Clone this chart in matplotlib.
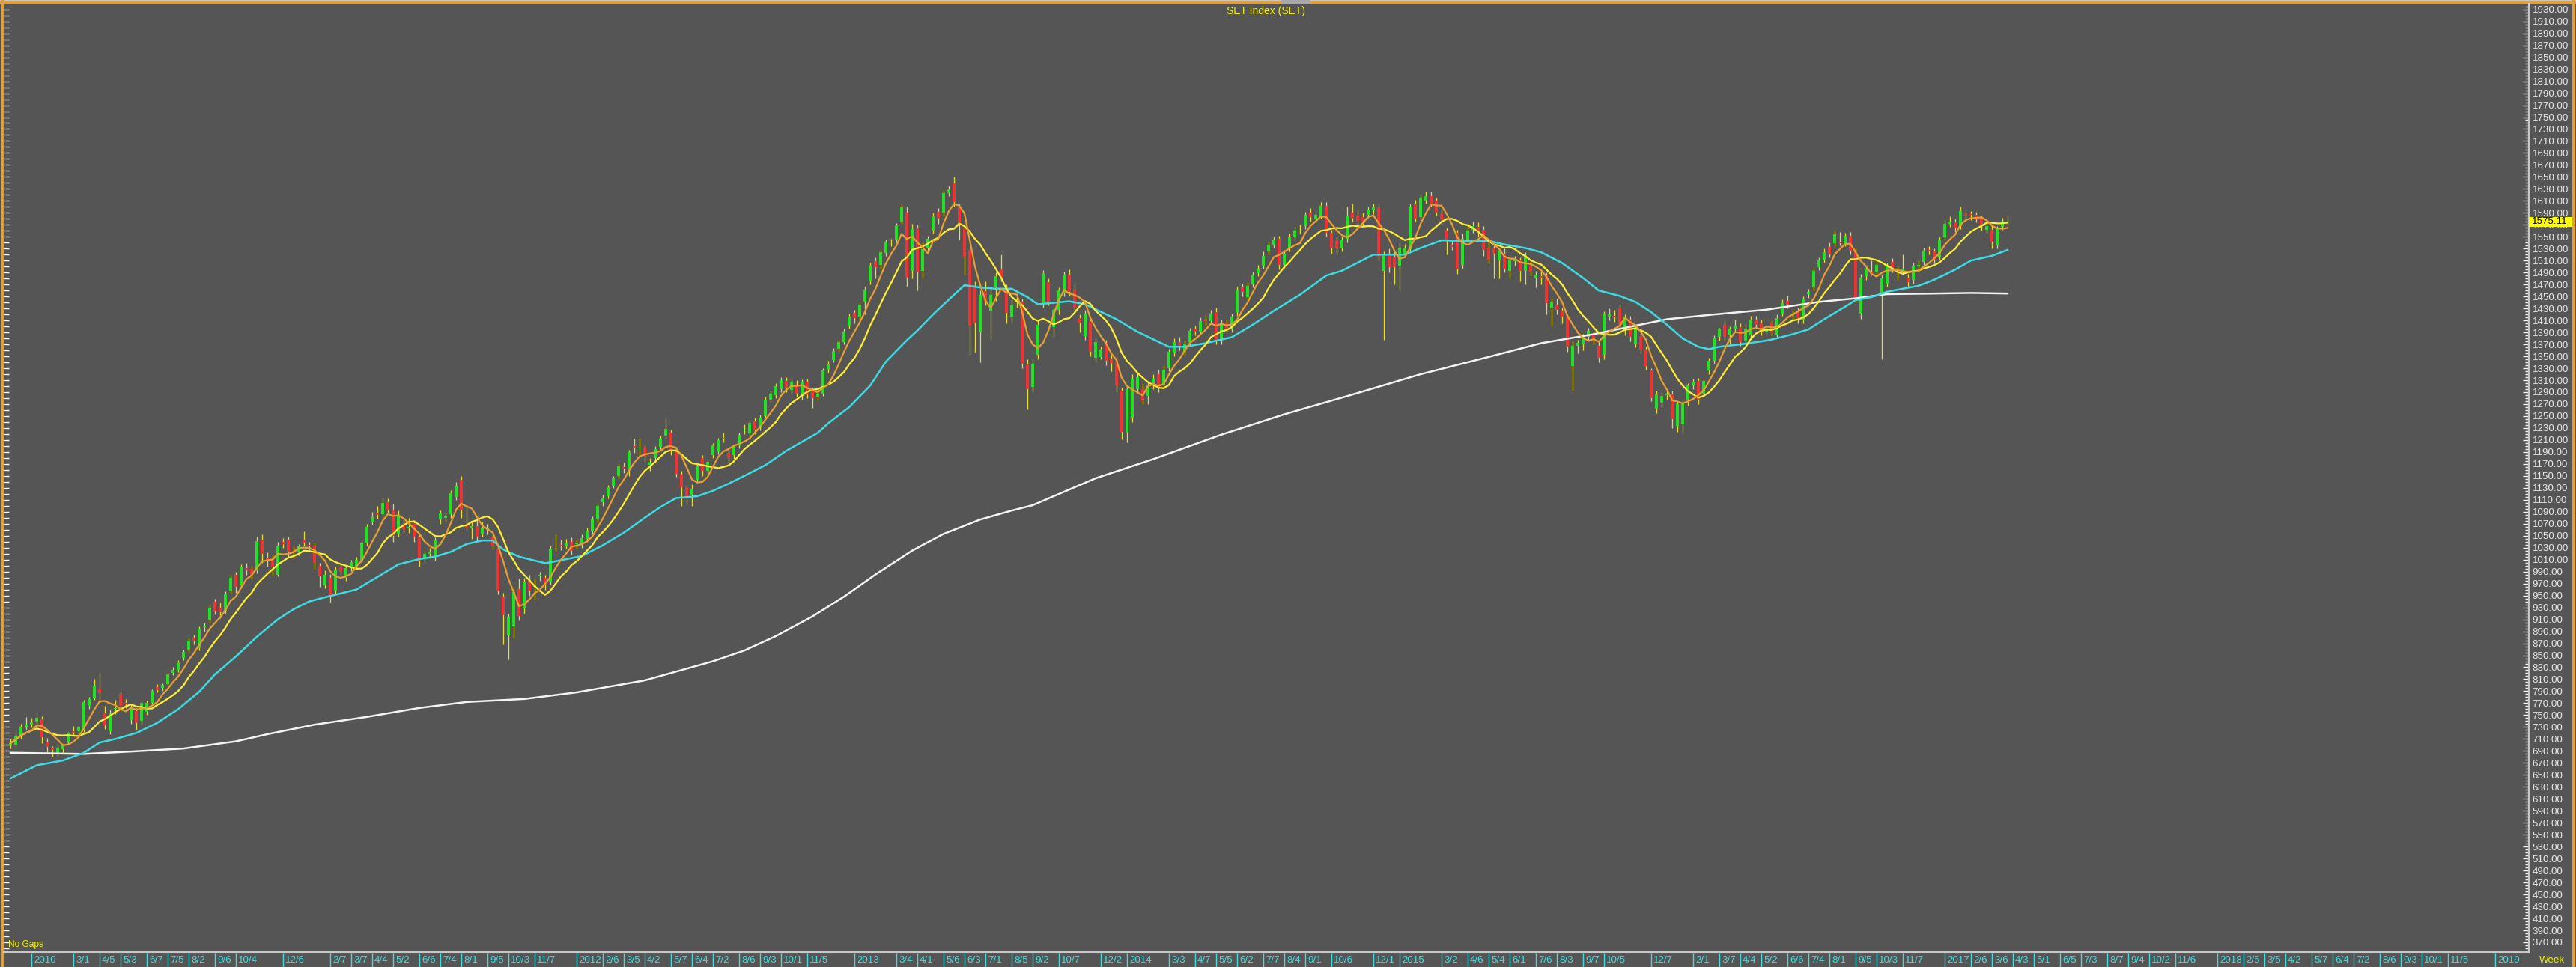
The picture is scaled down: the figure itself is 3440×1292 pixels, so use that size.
import numpy as np
import pandas as pd
import matplotlib
matplotlib.use("Agg")
import matplotlib.pyplot as plt
from matplotlib.lines import Line2D
from matplotlib.patches import Rectangle

plt.rcParams['font.family'] = ['Liberation Sans', 'DejaVu Sans']

# ---------------- data (weekly SET index, first week 2009-12-07) ----------------
start_week = "2009-12-07"

opens = [
 699,701,714,729,734,739,743,706,694,686, 693,705,723,723,724,766,778,794,753,723,
 760,785,770,742,757,740,755,771,797,795, 802,821,825,846,860,879,862,897,910,939,
 930,925,958,985,967,996,994,992,1044,1013, 1012,985,1040,1043,1025,1023,1042,1035,1033,1000,
 967,979,958,998,979,996,998,1008,1038,1073, 1088,1086,1106,1092,1054,1071,1062,1071,1048,1013,
 1020,1015,1077,1080,1086,1115,1144,1069,1062,1066, 1054,1060,1048,1027,948,883,898,961,928,976,
 965,983,979,973,1032,1035,1034,1040,1036,1035, 1045,1058,1077,1106,1116,1134,1150,1165,1162,1200,
 1196,1197,1168,1180,1198,1217,1222,1192,1152,1131, 1119,1143,1180,1159,1185,1191,1214,1189,1185,1201,
 1226,1221,1241,1231,1250,1277,1285,1295,1309,1294, 1303,1284,1307,1292,1283,1288,1328,1344,1362,1374,
 1402,1423,1416,1442,1475,1509,1503,1523,1540,1545, 1576,1590,1493,1564,1493,1530,1560,1592,1590,1623,
 1639,1599,1563,1526,1468,1390,1459,1426,1465,1495, 1460,1417,1440,1441,1336,1299,1353,1437,1474,1399,
 1428,1455,1487,1462,1414,1384,1409,1347,1349,1372, 1345,1343,1292,1222,1247,1295,1295,1284,1301,1320,
 1301,1330,1355,1374,1358,1374,1395,1391,1410,1409, 1424,1378,1405,1397,1424,1466,1449,1470,1489,1501,
 1525,1537,1547,1503,1530,1549,1561,1568,1591,1579, 1585,1602,1556,1543,1530,1547,1591,1585,1583,1587,
 1594,1599,1493,1520,1516,1501,1522,1529,1604,1583, 1610,1618,1610,1589,1560,1537,1556,1503,1545,1562,
 1566,1562,1532,1530,1510,1522,1493,1509,1510,1493, 1501,1480,1484,1485,1432,1437,1426,1415,1334,1368,
 1370,1382,1386,1368,1353,1415,1418,1430,1397,1412, 1370,1382,1361,1326,1263,1272,1285,1286,1234,1236,
 1278,1301,1309,1288,1326,1342,1382,1403,1385,1395, 1399,1376,1386,1412,1405,1391,1405,1387,1422,1443,
 1418,1426,1412,1454,1466,1499,1512,1533,1539,1541, 1539,1552,1526,1422,1484,1491,1491,1453,1472,1508,
 1493,1493,1482,1478,1502,1508,1528,1526,1516,1549, 1572,1574,1568,1589,1588,1587,1581,1562,1562,1537,
 1566,1574]

highs = [
 710,720,735,747,745,752,748,712,698,700, 702,722,732,733,776,780,810,820,765,759,
 776,790,777,768,762,773,774,793,802,803, 821,830,842,860,879,884,898,905,934,944,
 938,957,984,990,1002,1005,1000,1048,1052,1022, 1018,1040,1046,1049,1032,1036,1057,1040,1038,1004,
 992,986,998,1004,1000,1010,1014,1042,1070,1090, 1100,1113,1112,1104,1092,1080,1080,1076,1052,1025,
 1030,1047,1092,1090,1126,1140,1150,1102,1075,1082, 1073,1070,1056,1032,955,920,962,978,980,985,
 978,990,985,1033,1052,1044,1045,1047,1045,1052, 1063,1082,1104,1118,1135,1150,1170,1172,1193,1213,
 1212,1203,1180,1200,1218,1246,1228,1198,1158,1135, 1136,1170,1185,1178,1205,1214,1222,1195,1203,1223,
 1236,1243,1248,1252,1282,1292,1305,1315,1315,1312, 1310,1311,1312,1298,1296,1330,1342,1364,1378,1396,
 1421,1428,1440,1466,1506,1515,1528,1545,1546,1573, 1604,1600,1572,1570,1540,1552,1590,1598,1628,1636,
 1650,1605,1569,1532,1475,1460,1475,1462,1490,1520, 1470,1445,1450,1446,1345,1345,1410,1494,1480,1432,
 1465,1492,1495,1470,1420,1428,1415,1380,1366,1378, 1352,1350,1298,1300,1320,1322,1305,1308,1320,1327,
 1335,1362,1380,1382,1376,1398,1401,1415,1418,1428, 1431,1412,1411,1422,1466,1472,1474,1491,1503,1525,
 1541,1550,1552,1528,1555,1566,1570,1592,1598,1593, 1608,1608,1562,1550,1550,1600,1605,1595,1590,1601,
 1605,1604,1525,1530,1525,1540,1538,1605,1612,1622, 1625,1625,1615,1595,1565,1545,1562,1555,1572,1575,
 1574,1568,1540,1535,1532,1530,1516,1518,1515,1524, 1510,1493,1492,1490,1448,1446,1432,1420,1375,1378,
 1388,1398,1392,1375,1425,1430,1428,1436,1420,1418, 1402,1390,1366,1330,1292,1290,1293,1292,1275,1276,
 1305,1312,1314,1313,1347,1385,1398,1410,1400,1412, 1405,1403,1418,1418,1412,1400,1410,1420,1445,1452,
 1428,1432,1450,1463,1498,1515,1530,1540,1560,1558, 1557,1558,1532,1488,1500,1510,1508,1486,1506,1514,
 1500,1520,1488,1506,1510,1532,1534,1530,1550,1578, 1584,1580,1600,1596,1593,1592,1586,1575,1570,1568,
 1582,1587]

lows = [
 694,697,711,725,729,735,703,688,680,680, 687,702,716,719,722,760,775,770,727,718,
 752,762,762,736,725,736,750,768,788,790, 799,817,822,842,856,868,858,890,905,918,
 912,920,953,955,962,985,978,987,1004,998, 983,982,1030,1014,1012,1017,1033,1023,995,965,
 962,938,952,985,975,991,995,1004,1034,1068, 1078,1082,1088,1040,1048,1055,1055,1040,998,1005,
 1012,1008,1070,1074,1080,1110,1080,1060,1045,1040, 1048,1052,1028,952,868,843,880,908,920,950,
 945,975,960,968,1025,1026,1028,1018,1028,1030, 1040,1054,1072,1100,1112,1130,1146,1155,1150,1188,
 1185,1175,1158,1172,1193,1212,1185,1148,1100,1103, 1100,1138,1150,1152,1180,1186,1206,1172,1178,1196,
 1220,1216,1220,1226,1245,1272,1280,1290,1290,1288, 1282,1278,1280,1264,1276,1284,1323,1340,1358,1370,
 1396,1405,1410,1420,1470,1480,1496,1518,1534,1540, 1572,1466,1480,1460,1480,1525,1555,1572,1585,1618,
 1600,1545,1487,1353,1356,1340,1435,1377,1443,1475, 1405,1405,1432,1330,1261,1290,1345,1432,1435,1382,
 1420,1450,1452,1420,1390,1378,1350,1340,1345,1335, 1325,1290,1211,1206,1240,1288,1270,1270,1295,1290,
 1296,1325,1350,1360,1352,1368,1385,1386,1402,1404, 1370,1370,1392,1390,1418,1450,1440,1465,1484,1496,
 1520,1532,1495,1498,1525,1544,1555,1563,1576,1574, 1580,1550,1522,1520,1525,1540,1575,1570,1568,1582,
 1588,1510,1377,1490,1470,1460,1515,1525,1575,1578, 1605,1600,1585,1570,1520,1528,1488,1496,1540,1556,
 1550,1518,1505,1480,1480,1490,1480,1502,1475,1470, 1485,1465,1470,1420,1402,1420,1405,1358,1293,1355,
 1360,1375,1370,1340,1345,1410,1408,1395,1385,1375, 1365,1355,1328,1275,1255,1265,1278,1230,1224,1221,
 1268,1295,1270,1282,1320,1338,1376,1376,1370,1390, 1368,1370,1380,1397,1385,1385,1385,1382,1418,1430,
 1412,1405,1405,1448,1460,1494,1507,1515,1534,1535, 1534,1520,1440,1413,1478,1485,1486,1345,1466,1490,
 1478,1488,1465,1472,1496,1503,1520,1505,1511,1544, 1566,1558,1563,1580,1578,1574,1560,1555,1530,1530,
 1561,1570]

closes = [
 703,715,730,734,738,745,713,697,692,696, 699,720,720,730,772,777,799,787,733,752,
 762,766,768,763,737,770,770,790,792,800, 818,825,838,856,875,874,895,899,929,923,
 922,952,979,965,998,992,985,1041,1019,1008, 998,1033,1036,1023,1023,1032,1037,1033,1004,982,
 985,948,992,990,996,1006,1010,1038,1065,1081, 1085,1105,1094,1050,1085,1061,1065,1048,1008,1019,
 1023,1042,1087,1083,1121,1134,1094,1063,1066,1048, 1064,1064,1034,958,917,914,956,916,973,958,
 967,985,967,1028,1034,1034,1037,1025,1037,1046, 1058,1077,1100,1113,1131,1146,1166,1162,1190,1197,
 1197,1183,1172,1195,1213,1229,1192,1154,1131,1116, 1128,1166,1159,1173,1201,1210,1212,1180,1198,1219,
 1228,1239,1227,1247,1277,1287,1300,1310,1297,1307, 1288,1307,1286,1280,1288,1326,1336,1359,1374,1392,
 1417,1414,1436,1462,1501,1499,1524,1541,1541,1569, 1599,1481,1563,1490,1529,1547,1584,1580,1623,1629,
 1608,1569,1516,1402,1405,1453,1441,1453,1484,1481, 1423,1435,1444,1338,1295,1338,1403,1489,1441,1428,
 1460,1487,1458,1430,1405,1422,1357,1374,1361,1343, 1339,1301,1224,1295,1313,1315,1276,1301,1313,1299,
 1328,1357,1374,1368,1370,1393,1391,1409,1409,1422, 1376,1405,1397,1416,1460,1458,1468,1485,1497,1518,
 1535,1545,1503,1522,1549,1560,1562,1587,1583,1587, 1602,1556,1530,1530,1545,1585,1581,1577,1577,1595,
 1599,1516,1520,1499,1499,1531,1530,1600,1581,1616, 1618,1606,1591,1579,1545,1533,1497,1547,1560,1568,
 1558,1528,1512,1522,1526,1497,1510,1510,1493,1518, 1491,1487,1481,1439,1441,1428,1415,1366,1368,1372,
 1382,1393,1378,1347,1420,1420,1416,1401,1416,1383, 1395,1361,1334,1280,1286,1284,1287,1245,1270,1270,
 1301,1307,1278,1309,1343,1380,1395,1382,1395,1401, 1374,1397,1412,1403,1391,1395,1391,1414,1439,1435,
 1422,1414,1445,1458,1493,1510,1524,1520,1554,1539, 1552,1526,1449,1481,1495,1489,1503,1480,1501,1495,
 1491,1495,1474,1501,1503,1527,1525,1512,1545,1572, 1575,1564,1593,1585,1587,1579,1568,1568,1541,1564,
 1576,1575.11]

# long moving averages (week index -> value)
cyan_weeks = [0,5,10,14,17,20,24,28,32,36,39,43,47,51,54,57,60,66,70,74,78,81,84,87,90,92,94,97,
              102,105,109,113,117,121,124,127,131,134,137,140,144,148,151,154,156,160,164,167,171,
              173,176,180,182,185,188,191,194,196,202,205,211,215,221,224,228,233,237,241,246,251,
              254,260,262,266,269,273,277,282,285,289,292,296,300,303,307,310,313,316,319,322,324,
              326,330,334,336,340,343,346,350,352,355,358,361,364,367,371,374,378,381]
cyan_vals = [644,666,674,687,704,710,720,737,760,789,818,848,881,910,927,940,947,960,981,1002,1011,
             1015,1023,1036,1042,1042,1027,1015,1004,1009,1016,1034,1055,1080,1098,1113,1116,1125,
             1137,1150,1168,1192,1207,1222,1238,1265,1301,1341,1377,1393,1420,1453,1469,1465,1463,
             1463,1449,1437,1442,1437,1412,1391,1366,1366,1372,1382,1403,1426,1453,1485,1493,1520,
             1520,1520,1531,1544,1543,1543,1537,1531,1524,1506,1481,1460,1451,1441,1424,1403,1380,
             1366,1362,1366,1370,1375,1378,1387,1395,1412,1433,1444,1449,1458,1463,1468,1478,1495,
             1510,1518,1528]
white_weeks = [0,14,23,33,43,49,58,68,78,87,98,108,121,134,140,146,153,159,165,172,178,185,191,195,
               207,218,231,243,256,269,282,292,302,316,325,335,345,352,358,367,374,381]
white_vals = [687,685,689,694,706,718,734,747,762,772,777,788,808,840,858,882,915,948,985,1025,1053,
              1077,1092,1101,1146,1178,1219,1253,1286,1320,1349,1372,1387,1412,1420,1428,1441,1447,
              1454,1455,1456,1455]

# x-axis labels (first Monday of the month)
tick_dates = ["2010-01-04","2010-03-01","2010-04-05","2010-05-03","2010-06-07","2010-07-05","2010-08-02",
  "2010-09-06","2010-10-04","2010-12-06","2011-02-07","2011-03-07","2011-04-04","2011-05-02","2011-06-06",
  "2011-07-04","2011-08-01","2011-09-05","2011-10-03","2011-11-07","2012-01-02","2012-02-06","2012-03-05",
  "2012-04-02","2012-05-07","2012-06-04","2012-07-02","2012-08-06","2012-09-03","2012-10-01","2012-11-05",
  "2013-01-07","2013-03-04","2013-04-01","2013-05-06","2013-06-03","2013-07-01","2013-08-05","2013-09-02",
  "2013-10-07","2013-12-02","2014-01-06","2014-03-03","2014-04-07","2014-05-05","2014-06-02","2014-07-07",
  "2014-08-04","2014-09-01","2014-10-06","2014-12-01","2015-01-05","2015-03-02","2015-04-06","2015-05-04",
  "2015-06-01","2015-07-06","2015-08-03","2015-09-07","2015-10-05","2015-12-07","2016-02-01","2016-03-07",
  "2016-04-04","2016-05-02","2016-06-06","2016-07-04","2016-08-01","2016-09-05","2016-10-03","2016-11-07",
  "2017-01-02","2017-02-06","2017-03-06","2017-04-03","2017-05-01","2017-06-05","2017-07-03","2017-08-07",
  "2017-09-04","2017-10-02","2017-11-06","2018-01-01","2018-02-05","2018-03-05","2018-04-02","2018-05-07",
  "2018-06-04","2018-07-02","2018-08-06","2018-09-03","2018-10-01","2018-11-05","2019-01-07"]
tick_labels = ["2010","3/1","4/5","5/3","6/7","7/5","8/2","9/6","10/4","12/6",
  "2/7","3/7","4/4","5/2","6/6","7/4","8/1","9/5","10/3","11/7",
  "2012","2/6","3/5","4/2","5/7","6/4","7/2","8/6","9/3","10/1","11/5",
  "2013","3/4","4/1","5/6","6/3","7/1","8/5","9/2","10/7","12/2",
  "2014","3/3","4/7","5/5","6/2","7/7","8/4","9/1","10/6","12/1",
  "2015","3/2","4/6","5/4","6/1","7/6","8/3","9/7","10/5","12/7",
  "2/1","3/7","4/4","5/2","6/6","7/4","8/1","9/5","10/3","11/7",
  "2017","2/6","3/6","4/3","5/1","6/5","7/3","8/7","9/4","10/2","11/6",
  "2018","2/5","3/5","4/2","5/7","6/4","7/2","8/6","9/3","10/1","11/5","2019"]

title = "SET Index (SET)"
last_price = 1575.11

# ---------------- styling ----------------
BG = "#555555"
UP, DOWN, WICK = "#22e022", "#f03232", "#ece224"
C_ORANGE, C_YELLOW, C_CYAN, C_WHITE = "#e8a030", "#fff030", "#3cdce4", "#f4f4f4"
AXTXT = "#e8e8e8"
TICKC = "#3ee0e0"
YEL = "#f2f200"

W, H = 3440, 1292
L, R, T, B = 5, 3376, 5, 1271

fig = plt.figure(figsize=(W / 100, H / 100), dpi=100, facecolor=BG)
ax = fig.add_axes([L / W, 1 - B / H, (R - L) / W, (B - T) / H])
ax.set_facecolor(BG)
for s in ax.spines.values():
    s.set_visible(False)

def px(xp):  # pixel x -> week index
    return (xp - 14) / 7.0

def py(yp):  # pixel y -> value
    return 1930 - (yp - 12.7) / 0.7989

ax.set_xlim(px(L), px(R))
ax.set_ylim(py(B), py(T))

o = np.array(opens, float); h = np.array(highs, float)
l = np.array(lows, float); c = np.array(closes, float)
x = np.arange(len(c))
up = c >= o

ax.vlines(x, l, h, color=WICK, lw=0.9, zorder=2)
ax.bar(x[up], np.maximum(c - o, 0.8)[up], bottom=o[up], width=0.66, color=UP, lw=0, zorder=3)
ax.bar(x[~up], (o - c)[~up], bottom=c[~up], width=0.66, color=DOWN, lw=0, zorder=3)

s = pd.Series(c)
ma5 = s.rolling(5, min_periods=1).mean()
ma10 = s.rolling(10, min_periods=1).mean()
ax.plot(white_weeks, white_vals, color=C_WHITE, lw=1.8, zorder=4)
ax.plot(cyan_weeks, cyan_vals, color=C_CYAN, lw=1.8, zorder=4)
ax.plot(x, ma10, color=C_YELLOW, lw=1.6, zorder=5)
ax.plot(x, ma5, color=C_ORANGE, lw=1.6, zorder=6)

# y axis (right)
ax.yaxis.tick_right()
ax.set_yticks(np.arange(370, 1931, 20))
ax.set_yticklabels([f"{v:.2f}" for v in range(370, 1931, 20)])
ax.set_yticks(np.arange(360, 1940, 5), minor=True)
ax.tick_params(axis='y', which='major', direction='in', length=5, width=1, color='white',
               labelcolor=AXTXT, labelsize=9.6, pad=4)
ax.tick_params(axis='y', which='minor', direction='in', length=3, width=1, color='white')
ax.tick_params(axis='x', which='both', bottom=False, labelbottom=False)

sec = ax.secondary_yaxis('left')
sec.set_yticks(np.arange(360, 1940, 10))
sec.tick_params(direction='in', length=5, width=1, color='white', labelleft=False)
for sp in sec.spines.values():
    sp.set_visible(False)

# bottom date strip
axb = fig.add_axes([L / W, 0, (R - L) / W, (H - B - 2) / H])
axb.set_xlim(px(L), px(R))
axb.set_ylim(0, 1)
axb.axis('off')
t0 = pd.Timestamp(start_week)
for d, lab in zip(tick_dates, tick_labels):
    tx = (pd.Timestamp(d) - t0).days / 7.0
    axb.vlines(tx, 0, 1, color=TICKC, lw=1.0)
    axb.annotate(lab, (tx, 0.45), xytext=(3, 0), textcoords='offset pixels',
                 ha='left', va='center', color=TICKC, fontsize=9.6)

def fx(xp):
    return xp / W

def fy(yp):
    return 1 - yp / H

# separators
fig.add_artist(Line2D([fx(L), fx(R + 1)], [fy(B + 1), fy(B + 1)], color="#c8c8c8", lw=1.5))
fig.add_artist(Line2D([fx(R + 1), fx(R + 1)], [fy(T), fy(B + 1)], color="#c8c8c8", lw=1.5))

# frame
fig.add_artist(Rectangle((0, fy(1.2)), 1, 1.2 / H, transform=fig.transFigure, color="#c8c8c8", lw=0))
fig.add_artist(Rectangle((0, fy(4.5)), 1, 3.3 / H, transform=fig.transFigure, color="#e0a040", lw=0))
fig.add_artist(Rectangle((fx(1.5), 0), 3 / W, 1, transform=fig.transFigure, color="#e0a040", lw=0))
fig.add_artist(Rectangle((fx(3435), 0), 4 / W, 1, transform=fig.transFigure, color="#e0a040", lw=0))
fig.add_artist(Rectangle((fx(1711), fy(6)), 39 / W, 6 / H, transform=fig.transFigure,
                         color="#a8a8a8", lw=0, zorder=6))

# last price tag
yp_last = 12.7 + (1930 - last_price) * 0.7989
fig.add_artist(Rectangle((fx(R + 1), fy(yp_last + 6.5)), 58 / W, 13 / H, transform=fig.transFigure,
                         color="#ffff00", lw=0, zorder=10))
fig.text(fx(R + 5), fy(yp_last), f"{last_price:.2f}", color="black", fontsize=9.6,
         ha='left', va='center', zorder=11)

# texts
fig.text(fx(1690), fy(15), title, color=YEL, fontsize=10, ha='center', va='center')
fig.text(fx(11), fy(1262), "No Gaps", color=YEL, fontsize=8.6, ha='left', va='center')
fig.text(fx(3408), fy(1283), "Week", color=YEL, fontsize=9.6, ha='center', va='center')

fig.savefig("out.png", dpi=100, facecolor=BG)
